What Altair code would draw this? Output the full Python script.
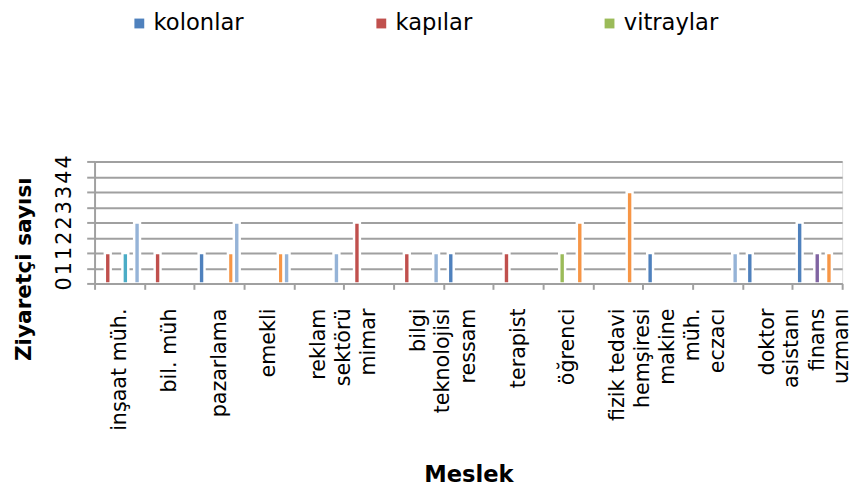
import json
import altair as alt
import pandas as pd

# ---- data ----
categories = ["inşaat müh.", "bil. müh", "pazarlama", "emekli", "reklam sektörü", "mimar",
              "bilgi teknolojisi", "ressam", "terapist", "öğrenci", "fizik tedavi hemşiresi",
              "makine müh.", "eczacı", "doktor asistanı", "finans uzmanı"]
label_lines = [["inşaat müh."], ["bil. müh"], ["pazarlama"], ["emekli"], ["reklam", "sektörü"],
               ["mimar"], ["bilgi", "teknolojisi"], ["ressam"], ["terapist"], ["öğrenci"],
               ["fizik tedavi", "hemşiresi"], ["makine", "müh."], ["eczacı"],
               ["doktor", "asistanı"], ["finans", "uzmanı"]]

series_names = ["kolonlar", "kapılar", "vitraylar", "seri 4", "seri 5", "seri 6", "seri 7"]
legend_names = ["kolonlar", "kapılar", "vitraylar"]
series_colors = ["#4F81BD", "#C0504D", "#9BBB59", "#8064A2", "#4BACC6", "#F79646", "#95B3D7"]

kolonlar  = [0, 0, 1, 0, 0, 0, 0, 1, 0, 0, 0, 1, 0, 1, 2]
kapilar   = [1, 1, 0, 0, 0, 2, 1, 0, 1, 0, 0, 0, 0, 0, 0]
vitraylar = [0, 0, 0, 0, 0, 0, 0, 0, 0, 1, 0, 0, 0, 0, 0]
seri4     = [0, 0, 0, 0, 0, 0, 0, 0, 0, 0, 0, 0, 0, 0, 1]
seri5     = [1, 0, 0, 0, 0, 0, 0, 0, 0, 0, 0, 0, 0, 0, 0]
seri6     = [0, 0, 1, 1, 0, 0, 0, 0, 0, 2, 3, 0, 0, 0, 1]
seri7     = [2, 0, 2, 1, 1, 0, 1, 0, 0, 0, 0, 0, 1, 0, 0]

y_ticks = [0, 0.5, 1, 1.5, 2, 2.5, 3, 3.5, 4]

# ---- build table ----
all_values = [kolonlar, kapilar, vitraylar, seri4, seri5, seri6, seri7]
rows = []
for name, vals in zip(series_names, all_values):
    for cat, v in zip(categories, vals):
        rows.append({"meslek": cat, "seri": name, "value": v})
df = pd.DataFrame(rows)

# multi-line x labels
expr = "datum.label"
for cat, lines in zip(categories, label_lines):
    if len(lines) > 1:
        expr = f"datum.label === {json.dumps(cat, ensure_ascii=False)} ? {json.dumps(lines, ensure_ascii=False)} : (" + expr + ")"

GRAY = "#a0a0a0"
FONT = "DejaVu Sans"

chart = alt.Chart(df).transform_filter("datum.value > 0").mark_bar(
    stroke="white", strokeWidth=2.5
).encode(
    x=alt.X("meslek:N", sort=categories,
            scale=alt.Scale(paddingInner=0, paddingOuter=0),
            axis=alt.Axis(title="Meslek", titleFontSize=23, titleFontWeight="bold",
                          titleFont=FONT, titleColor="black",
                          titleX=380, titleY=194, titleAlign="center", titleBaseline="middle",
                          labelAngle=270, labelAlign="right", labelBaseline="middle",
                          labelFontSize=21, labelFont=FONT, labelColor="black",
                          labelLineHeight=25, labelPadding=19, labelLimit=0,
                          labelOverlap=False, labelExpr=expr,
                          tickSize=6, tickWidth=2, tickColor=GRAY, tickBand="extent",
                          domainColor=GRAY, domainWidth=2, grid=False, zindex=1)),
    xOffset=alt.XOffset("seri:N", sort=series_names,
                        scale=alt.Scale(domain=series_names, paddingOuter=0.75, paddingInner=0)),
    y=alt.Y("value:Q", scale=alt.Scale(domain=[0, 4], nice=False),
            axis=alt.Axis(title="Ziyaretçi sayısı", titleFontSize=22, titleFontWeight="bold",
                          titleFont=FONT, titleColor="black", titleAngle=270,
                          titleX=-72, titleY=109, titleAlign="center", titleBaseline="middle",
                          values=y_ticks, labelExpr="'' + round(datum.value)",
                          labelAngle=270, labelAlign="center", labelBaseline="bottom",
                          labelFontSize=21, labelFont=FONT, labelColor="black",
                          labelPadding=12, labelOverlap=False,
                          tickSize=8, tickWidth=2, tickColor=GRAY,
                          grid=True, gridColor=GRAY, gridWidth=2,
                          domainColor=GRAY, domainWidth=2)),
    color=alt.Color("seri:N", scale=alt.Scale(domain=series_names, range=series_colors),
                    legend=alt.Legend(values=legend_names, title=None, orient="none",
                                      legendX=34, legendY=-152, direction="horizontal",
                                      symbolType="square", symbolSize=100, symbolStrokeWidth=0,
                                      labelFontSize=23, labelFont=FONT, labelColor="black",
                                      labelOffset=3, columnPadding=128, padding=0)),
).properties(
    width=760, height=124,
    padding={"left": 5, "top": 0, "right": 0, "bottom": 0}
).configure_view(stroke=None).configure(font=FONT)

chart.save("out.html", embed_options={"renderer": "svg", "actions": False})
